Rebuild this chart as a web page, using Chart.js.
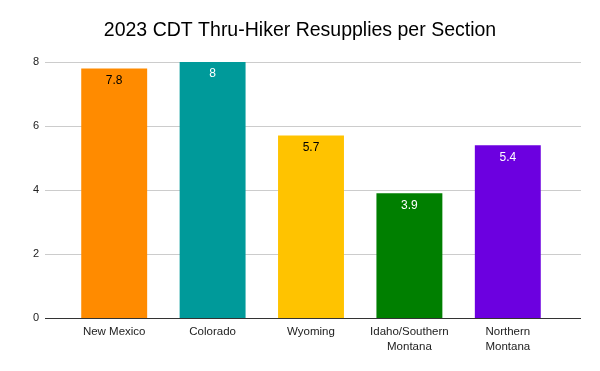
<!DOCTYPE html>
<html>
<head>
<meta charset="utf-8">
<script src="https://cdn.jsdelivr.net/npm/chart.js@4/dist/chart.umd.min.js"></script>
<style>
  html, body { margin: 0; padding: 0; background: #fff; }
  #wrap { width: 600px; height: 371px; }
</style>
</head>
<body>
<div id="wrap"><canvas id="chart" width="600" height="371"></canvas></div>
<script>
// données du graphique
const chartTitle = '2023 CDT Thru-Hiker Resupplies per Section';
const sections = [['New Mexico'], ['Colorado'], ['Wyoming'], ['Idaho/Southern', 'Montana'], ['Northern', 'Montana']];
const resupplies = [7.8, 8, 5.7, 3.9, 5.4];
const barColors = ['#ff8b00', '#009a9a', '#ffc300', '#007f00', '#6c00e0'];
const labelColors = ['#000000', '#ffffff', '#000000', '#ffffff', '#ffffff'];
const yTicks = [0, 2, 4, 6, 8];

const FONT = '"Liberation Sans", Arial, sans-serif';

// titre centré sur toute la largeur du canvas
const titlePlugin = {
    id: 'pageTitle',
    afterDraw(chart) {
        const ctx = chart.ctx;
        ctx.save();
        ctx.font = '19.5px ' + FONT;
        ctx.fillStyle = '#000000';
        ctx.textAlign = 'center';
        ctx.textBaseline = 'middle';
        ctx.fillText(chartTitle, chart.width / 2, 31);
        ctx.restore();
    }
};

// lignes de grille plus larges que la zone du graphique (comme Google Sheets)
const gridPlugin = {
    id: 'wideGrid',
    beforeDatasetsDraw(chart) {
        const ctx = chart.ctx;
        const y = chart.scales.y;
        const x0 = 45, x1 = 581;
        ctx.save();
        ctx.lineWidth = 1;
        yTicks.forEach(v => {
            const py = Math.round(y.getPixelForValue(v)) + 0.5;
            ctx.strokeStyle = v === 0 ? '#333333' : '#cccccc';
            ctx.beginPath();
            ctx.moveTo(x0, py);
            ctx.lineTo(x1, py);
            ctx.stroke();
        });
        ctx.restore();
    }
};

// étiquettes de valeur à l'intérieur du haut des barres
const valueLabels = {
    id: 'valueLabels',
    afterDatasetsDraw(chart) {
        const ctx = chart.ctx;
        const meta = chart.getDatasetMeta(0);
        ctx.save();
        ctx.font = '12px ' + FONT;
        ctx.textAlign = 'center';
        ctx.textBaseline = 'top';
        meta.data.forEach((bar, i) => {
            ctx.fillStyle = labelColors[i];
            ctx.fillText(String(resupplies[i]), bar.x, bar.y + 6);
        });
        ctx.restore();
    }
};

new Chart(document.getElementById('chart'), {
    type: 'bar',
    data: {
        labels: sections,
        datasets: [{
            data: resupplies,
            backgroundColor: barColors,
            borderWidth: 0,
            categoryPercentage: 1,
            barPercentage: 0.67
        }]
    },
    options: {
        responsive: false,
        animation: false,
        devicePixelRatio: 1,
        layout: { padding: { left: 0, right: 43, top: 62, bottom: 0 } },
        plugins: {
            legend: { display: false },
            tooltip: { enabled: false },
            title: { display: false }
        },
        scales: {
            x: {
                grid: { display: false, drawTicks: false },
                border: { display: false },
                ticks: {
                    color: '#222222',
                    font: { family: FONT, size: 11.5, lineHeight: 1.3 },
                    padding: 6,
                    maxRotation: 0,
                    autoSkip: false
                },
                afterFit(scale) { scale.height = 53; }
            },
            y: {
                min: 0,
                max: 8,
                grid: { display: false, drawTicks: false },
                border: { display: false },
                afterBuildTicks(scale) { scale.ticks = yTicks.map(v => ({ value: v })); },
                ticks: {
                    color: '#222222',
                    font: { family: FONT, size: 11 },
                    padding: 26
                },
                afterFit(scale) { scale.width = 65; }
            }
        }
    },
    plugins: [gridPlugin, valueLabels, titlePlugin]
});
</script>
</body>
</html>
